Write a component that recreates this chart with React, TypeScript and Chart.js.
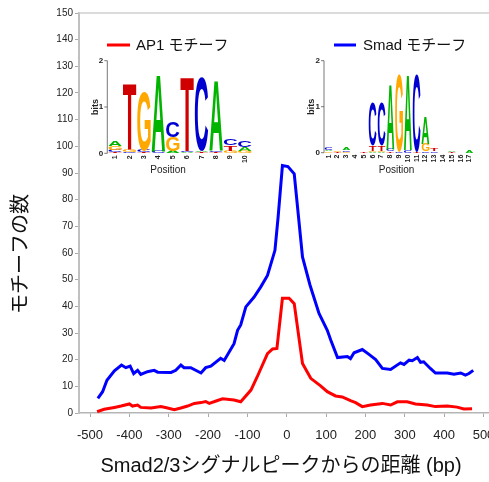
import { useEffect, useRef } from "react";
import { Chart, registerables } from "chart.js";

Chart.register(...registerables);

const X_TICKS = [-500, -400, -300, -200, -100, 0, 100, 200, 300, 400, 500];
const SERIES_LABELS = ["AP1 モチーフ", "Smad モチーフ"];
const SERIES_COLORS = ["#ff0000", "#0000ff"];
const X_TITLE = "Smad2/3シグナルピークからの距離 (bp)";
const Y_TITLE = "モチーフの数";

const RED_X = [-482, -464, -438, -421, -400, -392, -379, -371, -345, -320, -303, -286, -269, -252, -235, -218, -206, -197, -176, -163, -134, -117, -91, -75, -49, -36, -25, -11, 6, 19, 40, 61, 86, 103, 124, 141, 162, 175, 192, 213, 243, 264, 281, 306, 327, 357, 378, 408, 433, 450, 471];
const RED_Y = [0.5, 1.4, 2.1, 2.6, 3.4, 2.6, 3, 2.1, 1.9, 2.4, 1.9, 1.2, 1.9, 2.6, 3.6, 3.9, 4.3, 3.6, 4.7, 5.3, 4.9, 4.2, 8.6, 13.6, 22.3, 24, 24.2, 43, 43, 41, 18.6, 13, 10.2, 8, 6.4, 6, 4.6, 3.9, 2.4, 3, 3.6, 3, 4.2, 4.2, 3.4, 3, 2.4, 2.6, 2.2, 1.5, 1.6];

const BLUE_X = [-480, -468, -457, -438, -420, -409, -398, -389, -379, -371, -354, -337, -328, -294, -282, -269, -261, -244, -218, -206, -193, -168, -159, -134, -125, -117, -104, -83, -66, -49, -30, -22, -11, 3, 19, 40, 59, 82, 103, 112, 129, 154, 162, 171, 192, 209, 226, 243, 264, 289, 298, 311, 319, 332, 340, 348, 365, 378, 408, 425, 442, 454, 463, 474];
const BLUE_Y = [5.5, 8, 12.3, 15.8, 18, 17, 17.6, 14.8, 16, 14.5, 15.5, 16, 15.3, 15.2, 16, 18, 17, 17, 15, 17, 17.6, 20.5, 19.7, 26, 31, 33, 39.8, 43.5, 47.3, 51.6, 61, 73.4, 92.8, 92.4, 89.7, 58.5, 48, 37.3, 31, 27.3, 20.8, 21.2, 20.4, 22.6, 23.8, 22, 20, 16.7, 16.3, 18.8, 18.2, 19.8, 19.6, 20.8, 19, 19.2, 16.7, 15, 15, 14.5, 15, 14.2, 14.8, 16];

// Sequence logo columns, bottom-to-top stacks of [letter, bits]
const AP1_LOGO: [string, number][][] = [
  [["T", 0.03], ["C", 0.05], ["G", 0.08], ["A", 0.12]],
  [["C", 0.03], ["G", 0.04], ["T", 1.43]],
  [["T", 0.02], ["C", 0.04], ["G", 1.29]],
  [["C", 0.04], ["A", 1.65]],
  [["A", 0.04], ["G", 0.3], ["C", 0.34]],
  [["A", 0.02], ["C", 0.03], ["T", 1.59]],
  [["T", 0.02], ["A", 0.02], ["C", 1.6]],
  [["T", 0.03], ["C", 0.03], ["A", 1.52]],
  [["G", 0.05], ["T", 0.12], ["C", 0.15]],
  [["G", 0.04], ["A", 0.09], ["C", 0.14]],
];
const SMAD_LOGO: [string, number][][] = [
  [["G", 0.03], ["A", 0.03], ["C", 0.05]],
  [["T", 0.02], ["G", 0.03]],
  [["G", 0.02], ["C", 0.03], ["A", 0.04]],
  [["A", 0.01]],
  [["T", 0.02]],
  [["A", 0.02], ["G", 0.02], ["T", 0.12], ["C", 0.95]],
  [["A", 0.02], ["G", 0.02], ["T", 0.12], ["C", 0.94]],
  [["T", 0.03], ["C", 0.06], ["A", 1.4]],
  [["C", 0.02], ["G", 1.7]],
  [["C", 0.05], ["A", 1.63]],
  [["T", 0.02], ["C", 1.7]],
  [["C", 0.03], ["G", 0.17], ["A", 0.58]],
  [["C", 0.03], ["T", 0.05]],
  [["A", 0.01]],
  [["T", 0.02], ["A", 0.02]],
  [["G", 0.01]],
  [["A", 0.04]],
];
const LOGO_BIT_TICKS = [0, 1, 2];
const LOGO_X_LABEL = "Position";
const LOGO_Y_LABEL = "bits";

const LETTER_COLORS: Record<string, string> = {
  A: "#00b400",
  C: "#0000d0",
  G: "#ffa800",
  T: "#d00000",
};

const LATIN = "'Liberation Sans', Arial, 'Noto Sans CJK JP', sans-serif";

function drawLetter(ctx: CanvasRenderingContext2D, letter: string, x: number, yBottom: number, w: number, h: number) {
  if (h <= 0.1) return;
  ctx.save();
  ctx.font = `bold 100px ${LATIN}`;
  ctx.textBaseline = "alphabetic";
  ctx.textAlign = "left";
  const m = ctx.measureText(letter);
  const gw = m.actualBoundingBoxLeft + m.actualBoundingBoxRight;
  const gh = m.actualBoundingBoxAscent + m.actualBoundingBoxDescent;
  ctx.translate(x, yBottom - h);
  ctx.scale(w / gw, h / gh);
  ctx.fillStyle = LETTER_COLORS[letter] || "#000";
  ctx.fillText(letter, m.actualBoundingBoxLeft, m.actualBoundingBoxAscent);
  ctx.restore();
}

function drawLogo(
  ctx: CanvasRenderingContext2D,
  logo: [string, number][][],
  L: { axisX: number; baseY: number; pxPerBit: number; colStart: number; colW: number; bitsX: number; posX: number }
) {
  ctx.save();
  // axis
  ctx.strokeStyle = "#555";
  ctx.lineWidth = 0.8;
  ctx.beginPath();
  ctx.moveTo(L.axisX, L.baseY);
  ctx.lineTo(L.axisX, L.baseY - 2 * L.pxPerBit);
  ctx.stroke();
  ctx.font = `bold 8px ${LATIN}`;
  ctx.fillStyle = "#222";
  ctx.textAlign = "right";
  ctx.textBaseline = "middle";
  LOGO_BIT_TICKS.forEach((t) => {
    const y = L.baseY - t * L.pxPerBit;
    ctx.beginPath();
    ctx.moveTo(L.axisX - 3, y);
    ctx.lineTo(L.axisX, y);
    ctx.stroke();
    ctx.fillText(String(t), L.axisX - 4, y);
  });
  // bits label
  ctx.save();
  ctx.translate(L.bitsX, L.baseY - L.pxPerBit);
  ctx.rotate(-Math.PI / 2);
  ctx.font = `bold 9px ${LATIN}`;
  ctx.textAlign = "center";
  ctx.fillText(LOGO_Y_LABEL, 0, 0);
  ctx.restore();
  // letters
  logo.forEach((col, i) => {
    const x = L.colStart + i * L.colW;
    let y = L.baseY;
    col.forEach(([letter, bits]) => {
      const h = bits * L.pxPerBit;
      drawLetter(ctx, letter, x + 0.5, y, L.colW - 1, h);
      y -= h;
    });
    // position label
    ctx.save();
    ctx.translate(x + L.colW / 2, L.baseY + 2);
    ctx.rotate(-Math.PI / 2);
    ctx.font = `bold 7px ${LATIN}`;
    ctx.fillStyle = "#222";
    ctx.textAlign = "right";
    ctx.textBaseline = "middle";
    ctx.fillText(String(i + 1), 0, 0);
    ctx.restore();
  });
  ctx.font = `10px ${LATIN}`;
  ctx.fillStyle = "#222";
  ctx.textAlign = "center";
  ctx.textBaseline = "middle";
  ctx.fillText(LOGO_X_LABEL, L.posX, 170);
  ctx.restore();
}

const overlay = {
  id: "overlay",
  afterDraw(chart: any) {
    const ctx: CanvasRenderingContext2D = chart.ctx;
    const { left, right, top } = chart.chartArea;
    ctx.save();
    // top frame line
    ctx.strokeStyle = "#cfcfcf";
    ctx.lineWidth = 1.5;
    ctx.beginPath();
    ctx.moveTo(left, top);
    ctx.lineTo(right + 10, top);
    ctx.stroke();

    // axis titles
    ctx.fillStyle = "#111";
    ctx.font = `20px ${LATIN}`;
    ctx.textAlign = "center";
    ctx.textBaseline = "middle";
    ctx.fillText(X_TITLE, 281, 466);
    ctx.save();
    ctx.translate(21, 254);
    ctx.rotate(-Math.PI / 2);
    ctx.fillText(Y_TITLE, 0, 0);
    ctx.restore();

    // legend
    const legendPos = [
      { x1: 107, x2: 130, tx: 136 },
      { x1: 334, x2: 356, tx: 363 },
    ];
    ctx.font = `15px ${LATIN}`;
    ctx.textAlign = "left";
    chart.data.datasets.forEach((ds: any, i: number) => {
      const p = legendPos[i];
      ctx.strokeStyle = ds.borderColor;
      ctx.lineWidth = 3;
      ctx.beginPath();
      ctx.moveTo(p.x1, 45);
      ctx.lineTo(p.x2, 45);
      ctx.stroke();
      ctx.fillStyle = "#111";
      ctx.fillText(ds.label, p.tx, 46);
    });
    ctx.restore();

    drawLogo(ctx, AP1_LOGO, { axisX: 107.3, baseY: 153.3, pxPerBit: 46.3, colStart: 108, colW: 14.4, bitsX: 96, posX: 168 });
    drawLogo(ctx, SMAD_LOGO, { axisX: 324, baseY: 152.7, pxPerBit: 46, colStart: 324.3, colW: 8.8, bitsX: 312, posX: 396.5 });
  },
};

export default function App() {
  const ref = useRef<HTMLCanvasElement | null>(null);
  useEffect(() => {
    if (!ref.current) return;
    const chart = new Chart(ref.current, {
      type: "line",
      data: {
        datasets: [
          {
            label: SERIES_LABELS[0],
            data: RED_X.map((x, i) => ({ x, y: RED_Y[i] })),
            borderColor: SERIES_COLORS[0],
            borderWidth: 3,
            pointRadius: 0,
            tension: 0,
            fill: false,
          },
          {
            label: SERIES_LABELS[1],
            data: BLUE_X.map((x, i) => ({ x, y: BLUE_Y[i] })),
            borderColor: SERIES_COLORS[1],
            borderWidth: 3,
            pointRadius: 0,
            tension: 0,
            fill: false,
          },
        ],
      },
      options: {
        animation: false,
        responsive: false,
        devicePixelRatio: 1,
        layout: { padding: { top: 13, left: 0, right: 0, bottom: 0 }, autoPadding: false },
        plugins: { legend: { display: false }, tooltip: { enabled: false } },
        scales: {
          x: {
            type: "linear",
            min: -528,
            max: 514,
            afterBuildTicks: (scale: any) => {
              scale.ticks = X_TICKS.map((v) => ({ value: v }));
            },
            afterFit: (scale: any) => {
              scale.height = 69;
              scale.paddingLeft = 0;
              scale.paddingRight = 0;
            },
            grid: { drawOnChartArea: false, drawTicks: true, tickLength: 4, color: "#aaaaaa" },
            border: { color: "#b5b5b5", width: 1.5 },
            ticks: { font: { size: 13, family: LATIN }, color: "#222", padding: 11, maxRotation: 0, autoSkip: false },
          },
          y: {
            min: 0,
            max: 150,
            afterFit: (scale: any) => {
              scale.width = 79;
              scale.paddingTop = 0;
              scale.paddingBottom = 0;
            },
            grid: { drawOnChartArea: false, drawTicks: true, tickLength: 4, color: "#aaaaaa" },
            border: { color: "#c0c0c0", width: 2 },
            ticks: { stepSize: 10, font: { size: 10, family: LATIN }, color: "#222", padding: 2 },
          },
        },
      },
      plugins: [overlay],
    } as any);
    return () => chart.destroy();
  }, []);
  return (
    <div style={{ position: "fixed", left: 0, top: 0, width: 489, height: 482, background: "#fff" }}>
      <canvas ref={ref} width={489} height={482} style={{ width: 489, height: 482, display: "block" }} />
    </div>
  );
}
